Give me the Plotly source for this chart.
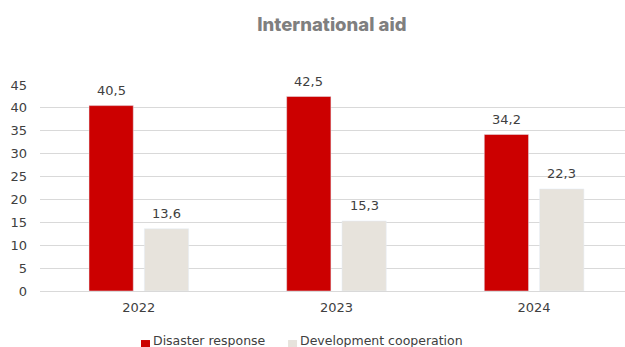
import plotly.graph_objects as go

years = ["2022", "2023", "2024"]
disaster_response = [40.5, 42.5, 34.2]
development_cooperation = [13.6, 15.3, 22.3]
y_ticks = [0, 5, 10, 15, 20, 25, 30, 35, 40, 45]

series = [
    ("Disaster response", disaster_response, "#CC0000"),
    ("Development cooperation", development_cooperation, "#E7E3DC"),
]

text_color = "#404040"
label_font = dict(family="DejaVu Sans", size=13, color=text_color)

bargap = 0.44
slot = (1 - bargap) / len(series)  # width of one bar slot inside a group

fig = go.Figure()
annotations = []
for k, (name, values, color) in enumerate(series):
    fig.add_trace(go.Bar(name=name, x=years, y=values, marker=dict(color=color),
                         showlegend=False))
    offset = (k - (len(series) - 1) / 2) * slot
    for i, v in enumerate(values):
        annotations.append(dict(
            x=i + offset, y=v, xref="x", yref="y", text=f"{v:.1f}".replace(".", ","),
            showarrow=False, yshift=15, yanchor="middle", font=label_font,
        ))

# legend drawn as swatches + labels underneath the axis
legend_items = [(0.1726, 0.1880), (0.4240, 0.4394)]
for (name, _, color), (x0, x1) in zip(series, legend_items):
    fig.add_shape(type="rect", xref="paper", yref="paper", x0=x0, x1=x1,
                  y0=-0.282, y1=-0.238, fillcolor=color, line=dict(width=0))
    annotations.append(dict(x=x1 + 0.002, y=-0.238, xref="paper", yref="paper",
                            text=name, showarrow=False, xanchor="left", yanchor="middle",
                            font=dict(family="DejaVu Sans", size=12.5, color=text_color)))

fig.update_layout(
    width=625, height=347,
    margin=dict(l=40, r=0, t=85, b=56),
    paper_bgcolor="white", plot_bgcolor="white",
    barmode="group", bargap=bargap, bargroupgap=0.2,
    title=dict(text="International aid", x=0.531, xanchor="center", y=0.928, yanchor="middle",
               font=dict(family="Inter", size=18.5, color="#7F7F7F", weight=800)),
    font=label_font,
    showlegend=False,
    annotations=annotations,
    xaxis=dict(range=[-0.5, 2.46], showgrid=False, showline=True, linecolor="#D9D9D9",
               linewidth=1, ticks="", tickfont=label_font, ticklabelstandoff=4),
    yaxis=dict(range=[0, 45], tickvals=y_ticks, showgrid=True, gridcolor="#D9D9D9",
               gridwidth=1, zeroline=False, showline=False, ticks="",
               tickfont=label_font, ticklabelstandoff=12),
)

fig.write_html("out.html")
